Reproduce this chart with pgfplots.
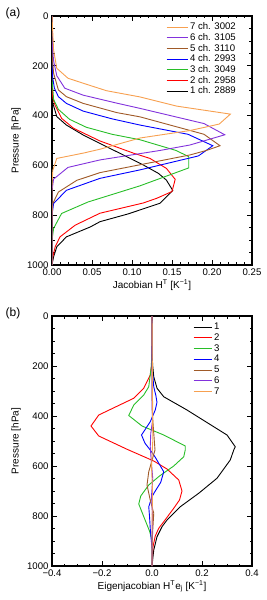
\documentclass[border=0pt]{standalone}
\usepackage{pgfplots}
\pgfplotsset{compat=1.18}
\usepackage{fontspec}
\setmainfont{Liberation Sans}
\definecolor{cA}{RGB}{0,0,0}
\definecolor{cB}{RGB}{255,0,0}
\definecolor{cC}{RGB}{40,190,40}
\definecolor{cD}{RGB}{0,0,255}
\definecolor{cE}{RGB}{160,90,40}
\definecolor{cF}{RGB}{130,50,220}
\definecolor{cG}{RGB}{247,160,80}
\pgfplotsset{
 myaxis/.style={
  scale only axis, width=200pt,
  y dir=reverse, ymin=0, ymax=1000,
  ytick={0,200,400,600,800,1000}, yticklabels={0,200,400,600,800,1000},
  minor y tick num=3, scaled ticks=false,
  axis line style={line width=1.2pt},
  tick style={black, line width=0.7pt},
  major tick length=5pt, minor tick length=2.5pt,
  tick align=inside, xtick pos=both, ytick pos=both,
  tick label style={font=\fontsize{9.6}{10}\selectfont},
  label style={font=\fontsize{9.6}{10}\selectfont},
  every axis y label/.style={at={(axis description cs:-0.18,0.5)}, rotate=90, anchor=center},
  every axis x label/.style={at={(axis description cs:0.5,-0.082)}, anchor=center},
  legend cell align=left,
  every axis plot/.append style={line width=0.9pt},
 }
}
\begin{document}
\begin{tikzpicture}[x=1pt,y=1pt]
\useasboundingbox (0,0) rectangle (267,600);
\node[font=\fontsize{12}{13}\selectfont] at (13,587) {(a)};
\node[font=\fontsize{12}{13}\selectfont] at (13,287) {(b)};
\begin{axis}[myaxis, at={(52pt,335pt)}, anchor=south west, height=249pt,
  xmin=0, xmax=0.25, xtick={0,0.05,0.1,0.15,0.2,0.25},
  xticklabels={0.00,0.05,0.10,0.15,0.20,0.25}, minor x tick num=4,
  xlabel={Jacobian H\textsuperscript{T} [K\textsuperscript{−1}]},
  ylabel={Pressure [hPa]},
  reverse legend,
  legend image code/.code={\draw[#1, line width=0.9pt] (0pt,0pt) -- (21pt,0pt);},
  legend style={draw=none, fill=none, at={(axis description cs:0.565,0.985)}, anchor=north west,
    font=\fontsize{9.6}{10}\selectfont, row sep=-1.8pt, inner sep=1pt},
]
\addplot[cA] coordinates {(0,0) (0,300) (0.001,350) (0.006,404) (0.018,438) (0.039,478) (0.062,515) (0.089,558) (0.114,598) (0.133,632) (0.143,659) (0.151,701) (0.135,752) (0.095,795) (0.06,826) (0.048,847) (0.018,887) (0.006,927) (0.002,967) (0,1000)};
\addlegendentry{1 ch. 2889}
\addplot[cB] coordinates {(0,0) (0,280) (0.001,330) (0.004,360) (0.012,411) (0.027,451) (0.06,502) (0.102,551) (0.1225,572) (0.143,612) (0.154,656) (0.15,705) (0.131,732) (0.114,751) (0.06,792) (0.029,840) (0.010,887) (0.004,927) (0.001,967) (0,1000)};
\addlegendentry{2 ch. 2958}
\addplot[cC] coordinates {(0,0) (0,250) (0.002,335) (0.008,375) (0.022,415) (0.043,447) (0.075,475) (0.11,497) (0.155,540) (0.171,565) (0.171,610) (0.11,682) (0.06,732) (0.045,747) (0.012,793) (0.002,853) (0,900) (0,1000)};
\addlegendentry{3 ch. 3049}
\addplot[cD] coordinates {(0,0) (0,180) (0.001,250) (0.003,290) (0.008,324) (0.018,351) (0.039,382) (0.075,413) (0.11,438) (0.17,475) (0.201,521) (0.183,562) (0.11,618) (0.06,652) (0.018,700) (0.002,753) (0,800) (0,1000)};
\addlegendentry{4 ch. 2993}
\addplot[cE] coordinates {(0,0) (0,150) (0.002,230) (0.008,297) (0.018,324) (0.039,351) (0.081,388) (0.11,405) (0.19,475) (0.21,521) (0.193,540) (0.1725,558) (0.06,629) (0.031,660) (0.008,707) (0.001,753) (0,800) (0,1000)};
\addlegendentry{5 ch. 3110}
\addplot[cF] coordinates {(0,0) (0,100) (0.002,180) (0.006,240) (0.016,290) (0.039,318) (0.081,350) (0.11,371) (0.19,432) (0.216,477) (0.1725,518) (0.135,540) (0.06,578) (0.02,608) (0.002,655) (0,700) (0,1000)};
\addlegendentry{6 ch. 3105}
\addplot[cG] coordinates {(0,0) (0.002,137) (0.006,210) (0.02,250) (0.039,270) (0.068,300) (0.11,325) (0.156,362) (0.223,394) (0.209,434) (0.1725,460) (0.11,490) (0.06,535) (0.04,550) (0.006,572) (0.001,620) (0,680) (0,1000)};
\addlegendentry{7 ch. 3002}
\end{axis}
\begin{axis}[myaxis, at={(52pt,34pt)}, anchor=south west, height=250pt,
  xmin=-0.4, xmax=0.4, xtick={-0.4,-0.2,0,0.2,0.4},
  xticklabels={−0.4,−0.2,0.0,0.2,0.4}, minor x tick num=3,
  xlabel={Eigenjacobian H\textsuperscript{T}e\textsubscript{j} [K\textsuperscript{−1}]},
  ylabel={Pressure [hPa]},
  legend image code/.code={\draw[#1, line width=0.9pt] (0pt,0pt) -- (18pt,0pt);},
  legend style={draw=none, fill=none, at={(axis description cs:0.7,0.985)}, anchor=north west,
    font=\fontsize{9.6}{10}\selectfont, row sep=-1.4pt, inner sep=1pt},
]
\addplot[cA] coordinates {(0,0) (0,150) (0.003,200) (0.007,243) (0.02,289) (0.047,323) (0.14,376) (0.30,476) (0.333,523) (0.327,536) (0.313,576) (0.26,649) (0.187,709) (0.113,763) (0.06,816) (0.04,843) (0.02,883) (0.007,936) (0,1000)};
\addlegendentry{1}
\addplot[cB] coordinates {(0,0) (0,150) (-0.002,200) (-0.007,236) (-0.033,289) (-0.073,329) (-0.213,396) (-0.244,440) (-0.213,480) (-0.1,533) (0.007,580) (0.06,612) (0.107,656) (0.12,700) (0.11,736) (0.087,769) (0.047,823) (0.027,849) (0.013,880) (0.004,923) (0,1000)};
\addlegendentry{2}
\addplot[cC] coordinates {(0,0) (0,150) (-0.003,203) (-0.013,283) (-0.033,316) (-0.073,356) (-0.093,398) (-0.04,440) (0.047,476) (0.133,520) (0.133,536) (0.127,563) (0.087,600) (0.03,640) (-0.013,676) (-0.045,720) (-0.053,752) (-0.03,810) (-0.01,860) (0,896) (0,1000)};
\addlegendentry{3}
\addplot[cD] coordinates {(0,0) (0,200) (0.007,283) (0.015,316) (0.02,345) (0.013,376) (-0.007,423) (-0.042,476) (-0.028,509) (-0.007,536) (0.013,565) (0.047,623) (0.035,665) (0.01,705) (0,723) (-0.013,763) (-0.01,800) (-0.007,850) (0,930) (0,1000)};
\addlegendentry{4}
\addplot[cE] coordinates {(0,0) (0,300) (0.002,400) (0.007,469) (0.012,536) (-0.013,623) (-0.02,676) (-0.007,736) (0.007,789) (0.003,856) (0,920) (0,1000)};
\addlegendentry{5}
\addplot[cF] coordinates {(0,0) (0,350) (0.002,420) (-0.005,470) (-0.007,523) (-0.003,580) (0.003,650) (-0.002,720) (0.002,800) (0,900) (0,1000)};
\addlegendentry{6}
\addplot[cG] coordinates {(0,0) (0.002,300) (0.003,500) (-0.002,600) (0.002,700) (0,850) (0,1000)};
\addlegendentry{7}
\end{axis}
\end{tikzpicture}
\end{document}
